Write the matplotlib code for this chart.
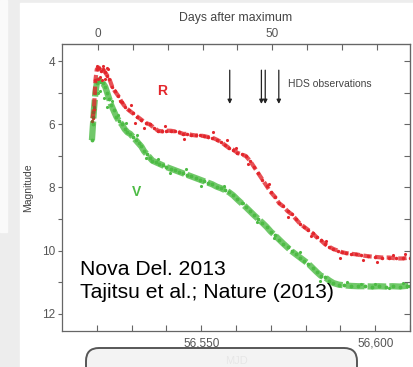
import numpy as np
import matplotlib
matplotlib.use("Agg")
import matplotlib.pyplot as plt
from matplotlib.patches import Rectangle, FancyBboxPatch
from matplotlib.ticker import FixedLocator, FixedFormatter

plt.rcParams['font.family'] = ['Liberation Sans', 'DejaVu Sans']

# light curve of Nova Del 2013 (MJD, magnitude)
r_mjd = [56518.8, 56519.2, 56519.6, 56520.0, 56520.6, 56521.2, 56521.8, 56522.4,
         56523.0, 56523.6, 56524.4, 56525.2, 56526.2, 56527.2, 56528.2, 56529.2,
         56530.4, 56531.6, 56532.8, 56534.0, 56535.2, 56536.4, 56537.6, 56538.8,
         56540.0, 56541.2, 56542.4, 56543.6, 56544.8, 56546.0, 56547.2, 56548.4,
         56549.6, 56550.8, 56552.0, 56553.2, 56554.4, 56555.6, 56556.8, 56558.0,
         56559.2, 56560.4, 56561.6, 56562.8, 56564.0, 56565.2, 56566.4, 56567.6,
         56568.8, 56570.0, 56571.2, 56572.4, 56573.6, 56574.8, 56576.0, 56577.2,
         56578.4, 56579.6, 56580.8, 56582.0, 56583.2, 56584.4, 56585.6, 56586.8,
         56588.0, 56589.2, 56590.4, 56591.6, 56593.0, 56594.5, 56596.0, 56598.0,
         56600.0, 56602.0, 56604.0, 56606.0, 56608.0, 56610.0]
r_mag = [5.8, 5.5, 4.6, 4.25, 4.2, 4.3, 4.25, 4.35,
         4.45, 4.55, 4.8, 4.95, 5.1, 5.3, 5.45, 5.55,
         5.65, 5.75, 5.85, 5.95, 6.0, 6.1, 6.2, 6.22,
         6.2, 6.2, 6.22, 6.25, 6.3, 6.3, 6.33, 6.35,
         6.35, 6.37, 6.4, 6.42, 6.48, 6.55, 6.65, 6.75,
         6.8, 6.9, 6.95, 7.0, 7.15, 7.35, 7.55, 7.75,
         7.95, 8.15, 8.3, 8.5, 8.6, 8.75, 8.85, 9.0,
         9.15, 9.25, 9.35, 9.45, 9.58, 9.68, 9.8, 9.88,
         9.95, 10.0, 10.05, 10.08, 10.1, 10.12, 10.15, 10.18,
         10.2, 10.22, 10.22, 10.25, 10.25, 10.22]

v_mjd = [56518.6, 56518.9, 56519.2, 56519.6, 56520.0, 56520.6, 56521.2, 56521.8,
         56522.4, 56523.0, 56523.6, 56524.2, 56524.8, 56525.6, 56526.4, 56527.2,
         56528.0, 56528.8, 56529.6, 56530.4, 56531.2, 56532.0, 56532.8, 56533.6,
         56534.4, 56535.2, 56536.0, 56537.0, 56538.0, 56539.0, 56540.0, 56541.2,
         56542.4, 56543.6, 56544.8, 56546.0, 56547.2, 56548.4, 56549.6, 56550.8,
         56552.0, 56553.2, 56554.4, 56555.6, 56556.8, 56558.0, 56559.2, 56560.4,
         56561.6, 56562.8, 56564.0, 56565.2, 56566.4, 56567.6, 56568.8, 56570.0,
         56571.2, 56572.4, 56573.6, 56574.8, 56576.0, 56577.2, 56578.4, 56579.6,
         56580.8, 56582.0, 56583.2, 56584.4, 56585.6, 56586.8, 56588.0, 56589.5,
         56591.0, 56593.0, 56595.0, 56597.0, 56599.0, 56601.0, 56603.0, 56605.0,
         56607.0, 56609.0, 56610.0]
v_mag = [6.5, 6.0, 5.5, 5.0, 4.7, 4.6, 4.65, 4.7,
         4.8, 5.0, 5.2, 5.4, 5.55, 5.75, 5.9, 6.0,
         6.15, 6.25, 6.3, 6.4, 6.5, 6.6, 6.7, 6.85,
         6.95, 7.05, 7.15, 7.2, 7.25, 7.3, 7.35, 7.4,
         7.45, 7.5, 7.55, 7.6, 7.65, 7.7, 7.75, 7.8,
         7.85, 7.9, 7.97, 8.02, 8.08, 8.15, 8.25, 8.38,
         8.5, 8.62, 8.75, 8.88, 9.0, 9.12, 9.25, 9.4,
         9.52, 9.65, 9.78, 9.9, 10.02, 10.12, 10.22, 10.32,
         10.42, 10.55, 10.68, 10.8, 10.85, 10.95, 11.03, 11.08,
         11.1, 11.12, 11.13, 11.13, 11.14, 11.13, 11.14, 11.13,
         11.14, 11.12, 11.12]

# loose points scattered around the bands
r_out_mjd = [56520.3, 56521.5, 56522.8, 56526.8, 56529.8, 56533.5, 56539.5, 56553.5,
             56557.5, 56563.5, 56575.0, 56590.0, 56596.5, 56605.0, 56531.0, 56545.0,
             56560.0, 56569.5, 56581.5, 56586.0, 56600.5, 56608.5,
             56520.2, 56520.9, 56521.7, 56522.3, 56523.3]
r_out_mag = [4.55, 4.6, 4.2, 5.25, 5.4, 6.1, 6.05, 6.25, 6.5, 7.25, 8.95, 10.25,
             10.3, 10.15, 5.95, 6.45, 6.75, 7.9, 9.55, 9.7, 10.35, 10.1,
             4.15, 4.5, 4.15, 4.55, 4.25]
v_out_mjd = [56520.3, 56521.0, 56522.0, 56523.0, 56524.5, 56528.5, 56531.5, 56537.5,
             56545.5, 56556.5, 56566.0, 56578.5, 56592.0, 56600.0, 56526.0, 56534.0,
             56541.0, 56550.0, 56562.0, 56571.0, 56584.0, 56596.0, 56604.0, 56608.0]
v_out_mag = [5.0, 4.95, 5.15, 5.45, 5.25, 5.95, 6.35, 7.1, 7.4, 7.95, 9.1, 10.05,
             11.0, 11.05, 5.7, 7.05, 7.55, 7.95, 8.5, 9.6, 10.95, 11.05, 11.2, 11.02]
early_mjd = [56518.7, 56518.9, 56519.0, 56519.2]
early_mag = [5.9, 5.6, 5.75, 5.45]

hds_mjd = [56558.2, 56567.3, 56568.4, 56572.3]
t_max = 56520.4

W, H = 413, 367
fig = plt.figure(figsize=(W / 100, H / 100), dpi=100)

# slide background
bg = fig.add_axes([0, 0, 1, 1], zorder=0)
bg.add_patch(Rectangle((0, 0), W, H, color='#ededed'))
bg.add_patch(Rectangle((0, 0), 7, 232, color='#fafafa'))
shade = np.linspace(0.78, 0.97, 12).reshape(1, -1)
bg.imshow(np.dstack([shade] * 3), extent=(7, 20, H, 0), aspect='auto')
shade2 = np.linspace(0.8, 0.93, 8).reshape(-1, 1)
bg.imshow(np.dstack([shade2] * 3), extent=(0, 7, 240, 232), aspect='auto')
bg.add_patch(Rectangle((20, 3), W - 20, H, color='white'))
bg.set_xlim(0, W)
bg.set_ylim(H, 0)
bg.axis('off')

ax = fig.add_axes([62 / W, 36 / H, 348 / W, 287 / H], zorder=1)
ax.set_xlim(56510, 56610)
ax.set_ylim(12.55, 3.45)

red = '#e3262c'
green = '#4dbb45'
ax.plot(v_mjd, v_mag, color=green, lw=4.5, alpha=0.8, ls=(0, (3, 0.5)))
ax.plot(v_mjd, v_mag, '.', color=green, ms=3.5)
ax.plot(v_out_mjd, v_out_mag, '.', color=green, ms=2.5)
ax.plot(r_mjd, r_mag, color=red, lw=3.0, alpha=0.8, ls=(0, (2, 0.8)))
ax.plot(r_mjd, r_mag, '.', color=red, ms=3)
ax.plot(r_out_mjd, r_out_mag, '.', color=red, ms=2.5)
ax.plot(early_mjd, early_mag, '.', color='#8a5a2a', ms=3)

ax.text(56538.8, 4.95, 'R', color=red, fontsize=10, fontweight='bold', ha='center', va='center')
ax.text(56531.3, 8.13, 'V', color=green, fontsize=10, fontweight='bold', ha='center', va='center')

for m in hds_mjd:
    ax.annotate('', xy=(m, 5.35), xytext=(m, 4.28),
                arrowprops=dict(arrowstyle='-|>', color='#222222', lw=0.9,
                                mutation_scale=6, shrinkA=0, shrinkB=0))
ax.text(56575.0, 4.73, 'HDS observations', color='#444444', fontsize=7.5, va='center')

grey = '#555555'
for s in ax.spines.values():
    s.set_color('#666666')
    s.set_linewidth(0.9)

ax.xaxis.set_major_locator(FixedLocator(np.arange(56520, 56611, 10)))
ax.xaxis.set_major_formatter(FixedFormatter(['', '', '', '56,550', '', '', '', '', '56,600', '']))
ax.yaxis.set_major_locator(FixedLocator(np.arange(4, 13, 1)))
ax.yaxis.set_major_formatter(FixedFormatter(['4', '', '6', '', '8', '', '10', '', '12']))
ax.tick_params(axis='x', direction='in', length=4, width=0.8, colors='#666666',
               labelcolor=grey, labelsize=8.5, pad=5)
ax.tick_params(axis='y', direction='out', length=3, width=0.8, colors='#666666',
               labelcolor=grey, labelsize=8.5, pad=2, right=False)
ax.set_ylabel('Magnitude', fontsize=7.5, color='#444444', labelpad=6)
ax.set_xlabel('MJD', fontsize=8, color='#444444', labelpad=4)

# right side ticks point inward
ax2 = ax.twinx()
ax2.set_ylim(ax.get_ylim())
ax2.yaxis.set_major_locator(FixedLocator(np.arange(4, 13, 1)))
ax2.tick_params(axis='y', direction='in', length=4, width=0.8, colors='#666666', labelright=False)
ax2.spines['right'].set_color('#666666')
for s in ['left', 'top', 'bottom']:
    ax2.spines[s].set_visible(False)

top = ax.secondary_xaxis('top', functions=(lambda m: m - t_max, lambda d: d + t_max))
top.xaxis.set_major_locator(FixedLocator(np.arange(0, 91, 10)))
top.xaxis.set_major_formatter(FixedFormatter(['0', '', '', '', '', '50', '', '', '', '']))
top.tick_params(direction='in', length=4, width=0.8, colors='#666666',
                labelcolor=grey, labelsize=8.5, pad=3)
top.spines['top'].set_color('#666666')
top.set_xlabel('Days after maximum', fontsize=8.8, color='#444444', labelpad=5)

# overlay: citation and the rounded box at the bottom
ov = fig.add_axes([0, 0, 1, 1], zorder=3)
ov.set_xlim(0, W)
ov.set_ylim(H, 0)
ov.axis('off')
ov.patch.set_alpha(0)
ov.text(80, 275, 'Nova Del. 2013', fontsize=15.2, color='black', va='baseline')
ov.text(80, 298.5, 'Tajitsu et al.; Nature (2013)', fontsize=15.2, color='black', va='baseline')
ov.add_patch(FancyBboxPatch((86, 348), 271, 40, boxstyle='round,pad=0,rounding_size=13',
                            facecolor='#f3f3f3', edgecolor='#4a4a4a', lw=1.4, alpha=0.93))

fig.savefig('out.png', dpi=100)
